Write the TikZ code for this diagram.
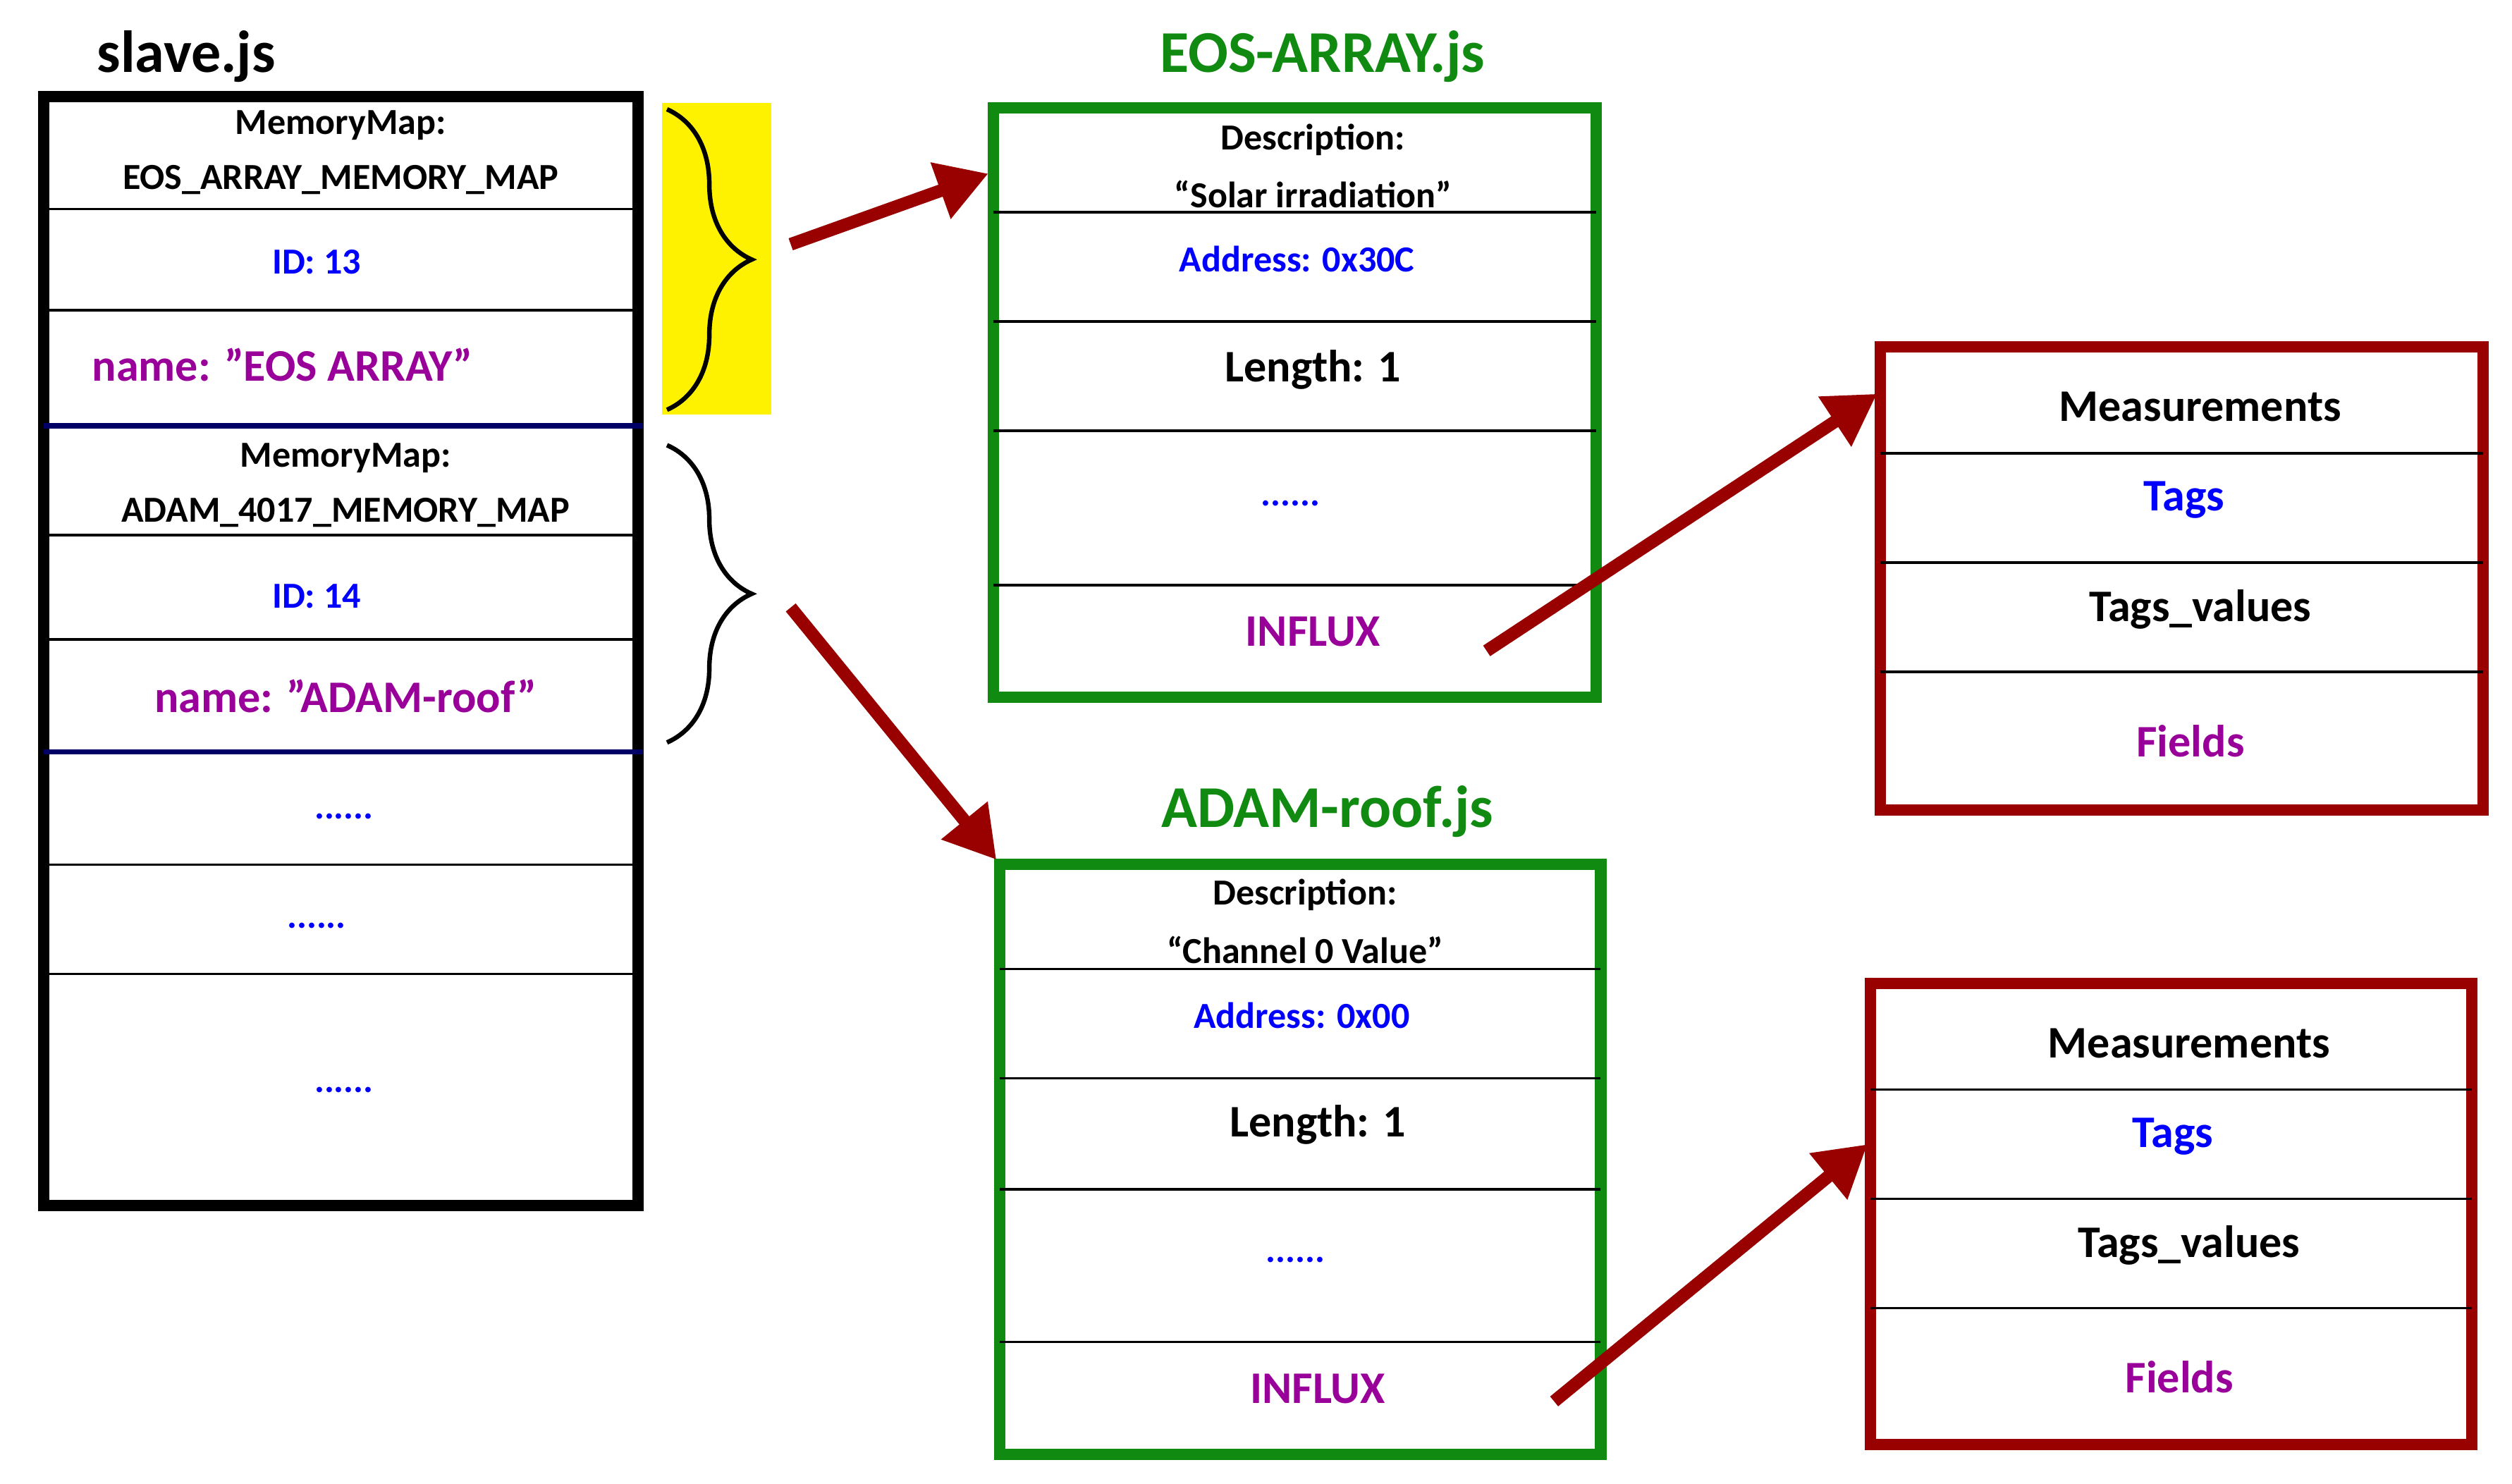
\documentclass[tikz,border=0pt]{standalone}
\usepackage{fontspec}
\setmainfont{Carlito}
\usetikzlibrary{arrows.meta,decorations.pathreplacing}
\definecolor{dred}{HTML}{990000}
\definecolor{dgreen}{HTML}{108A10}
\definecolor{purp}{HTML}{990099}
\begin{document}
\begin{tikzpicture}[x=0.02cm,y=-0.02cm,
 box/.style={line width=4pt},
 sep/.style={line width=0.9pt},
 t/.style={font=\bfseries\fontsize{13}{14}\selectfont,inner sep=0},
 tb/.style={font=\bfseries\fontsize{16}{18}\selectfont,inner sep=0},
 ttl/.style={font=\bfseries\fontsize{21}{24}\selectfont,inner sep=0},
 arr/.style={dred,line width=4.5pt,-{Triangle[length=18pt,width=20pt]}},
 brc/.style={line width=1.6pt}]
\useasboundingbox (0,0) rectangle (1563,923);
% slave
\node[ttl,anchor=west] (st) at (60,35) {slave.js};
\fill[yellow] (412,64) rectangle (480,258);
\draw[box] (27,60) rectangle (397,750);
\foreach \y in {130,193,333,398,538,606} \draw[sep] (27,\y) -- (397,\y);
\draw[line width=1.8pt,blue!40!black] (27,265) -- (400,265);
\draw[line width=1.8pt,blue!40!black] (27,468) -- (400,468);
\node[t] (s1) at (212,78) {MemoryMap:};
\node[t] (s2) at (212,112) {EOS\_ARRAY\_MEMORY\_MAP};
\node[t,blue] (s3) at (197,163) {ID: 13};
\node[tb,purp,anchor=west] (s4) at (57,227) {name: "EOS ARRAY"};
\node[t] (s5) at (215,285) {MemoryMap:};
\node[t] (s6) at (215,319) {ADAM\_4017\_MEMORY\_MAP};
\node[t,blue] (s7) at (197,371) {ID: 14};
\node[tb,purp] (s8) at (215,433) {name: "ADAM-roof"};
\node[t,blue] (s9) at (214,508) {......};
\node[t,blue] (s10) at (197,576) {......};
\node[t,blue] (s11) at (214,678) {......};
% braces
\draw[brc,decorate,decoration={brace,amplitude=30pt,aspect=0.5}] (415,68) -- (415,255);
\draw[brc,decorate,decoration={brace,amplitude=30pt,aspect=0.5}] (415,277) -- (415,462);
\coordinate (b1) at (492,152);
\coordinate (b2) at (492,378);
% EOS
\node[ttl,dgreen] (et) at (823,35) {EOS-ARRAY.js};
\draw[box,dgreen] (618,67) rectangle (993,434);
\foreach \y in {132,200,268,364} \draw[sep] (618,\y) -- (993,\y);
\node[t] (e1) at (817,87) {Description:};
\node[t] (e2) at (817,121) {“Solar irradiation”};
\node[t,blue] (e3) at (807,161) {Address: 0x30C};
\node[tb] (e4) at (817,230) {Length: 1};
\node[t,blue] (e5) at (803,313) {......};
\node[tb,purp] (e6) at (817,393) {INFLUX};
\coordinate (ea) at (615,108);
\coordinate (ei) at (925,405);
% ADAM
\node[ttl,dgreen] (at) at (826,505) {ADAM-roof.js};
\draw[box,dgreen] (622,538) rectangle (996,905);
\foreach \y in {603,671,740,835} \draw[sep] (622,\y) -- (996,\y);
\node[t] (a1) at (812,557) {Description:};
\node[t] (a2) at (812,591) {“Channel 0 Value”};
\node[t,blue] (a3) at (810,632) {Address: 0x00};
\node[tb] (a4) at (820,700) {Length: 1};
\node[t,blue] (a5) at (806,784) {......};
\node[tb,purp] (a6) at (820,864) {INFLUX};
\coordinate (aa) at (620,535);
\coordinate (ai) at (967,872);
% measurements 1
\draw[box,dred] (1170,216) rectangle (1545,504);
\foreach \y in {282,350,418} \draw[sep] (1170,\y) -- (1545,\y);
\node[tb] (m1) at (1369,253) {Measurements};
\node[tb,blue] (m2) at (1359,311) {Tags};
\node[tb] (m3) at (1369,379) {Tags\_values};
\node[tb,purp] (m4) at (1363,461) {Fields};
\coordinate (ma) at (1168,245);
% measurements 2
\draw[box,dred] (1164,612) rectangle (1538,899);
\foreach \y in {678,746,814} \draw[sep] (1164,\y) -- (1538,\y);
\node[tb] (n1) at (1362,649) {Measurements};
\node[tb,blue] (n2) at (1352,707) {Tags};
\node[tb] (n3) at (1362,775) {Tags\_values};
\node[tb,purp] (n4) at (1356,857) {Fields};
\coordinate (na) at (1162,712);
% arrows
\draw[arr] (b1) -- (ea);
\draw[arr] (b2) -- (aa);
\draw[arr] (ei) -- (ma);
\draw[arr] (ai) -- (na);
\end{tikzpicture}
\end{document}
